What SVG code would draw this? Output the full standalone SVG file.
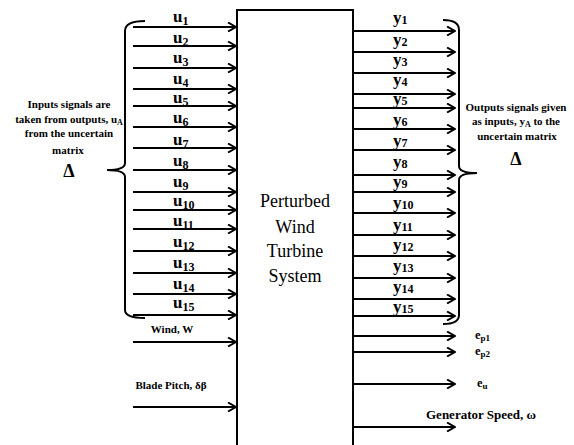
<svg xmlns="http://www.w3.org/2000/svg" width="574" height="445" viewBox="0 0 574 445">
  <style>
    .ln { stroke: #000; stroke-width: 2; fill: none; }
    .arr { stroke: #000; stroke-width: 2; fill: none; marker-end: url(#head); }
    .sig { font-family: "Liberation Serif", "Times New Roman", serif; font-weight: bold; font-size: 17px; fill: #000; }
    .sub { font-size: 12px; }
    .note { font-family: "Liberation Serif", "Times New Roman", serif; font-weight: bold; font-size: 11px; fill: #000; text-anchor: middle; }
    .delta { font-family: "Liberation Serif", "Times New Roman", serif; font-weight: bold; font-size: 18px; fill: #000; text-anchor: middle; }
    .big { font-family: "Liberation Serif", "Times New Roman", serif; font-size: 18px; fill: #000; text-anchor: middle; }
    .lbl { font-family: "Liberation Serif", "Times New Roman", serif; font-weight: bold; font-size: 12.5px; fill: #000; }
    .gen { font-size: 13px; }
  </style>
  <defs>
    <marker id="head" markerWidth="10" markerHeight="10" refX="9" refY="5" orient="auto" markerUnits="userSpaceOnUse">
      <path d="M1,0.5 L9,5 L1,9.5" fill="none" stroke="#000" stroke-width="2"/>
    </marker>
  </defs>
  <rect width="574" height="445" fill="#fff"/>

  <!-- plant block -->
  <g id="system">
    <path class="ln" d="M237,446 L237,10 L353,10 L353,446"/>
    <text class="big" x="295" y="207">Perturbed</text>
    <text class="big" x="295" y="233">Wind</text>
    <text class="big" x="295" y="257">Turbine</text>
    <text class="big" x="295" y="282">System</text>
  </g>

  <!-- uncertainty braces and notes -->
  <g id="input-brace">
    <path class="ln" d="M145,21 Q125,21 125,31 L125,163 Q125,170 107,170 Q125,170 125,177 L125,310 Q125,318 145,318"/>
    <text class="note" x="69" y="108">Inputs signals are</text>
    <text class="note" x="69" y="123">taken from outputs, u<tspan font-size="8" dy="2">A</tspan></text>
    <text class="note" x="69" y="137">from the uncertain</text>
    <text class="note" x="68" y="154">matrix</text>
    <text class="delta" x="69" y="177">Δ</text>
  </g>
  <g id="output-brace">
    <path class="ln" d="M443,20 Q459,20 459,30 L459,166 Q459,173 477,173 Q459,173 459,180 L459,315 Q459,324 443,324"/>
    <text class="note" x="516" y="111">Outputs signals given</text>
    <text class="note" x="516" y="125">as inputs, y<tspan font-size="8" dy="2">A</tspan><tspan dy="-2">  to the</tspan></text>
    <text class="note" x="517" y="140">uncertain matrix</text>
    <text class="delta" x="516" y="165">Δ</text>
  </g>

  <!-- signal arrows -->
  <g id="connectors">
    <path class="arr" d="M133,27 H236"/>
    <path class="arr" d="M133,46 H236"/>
    <path class="arr" d="M133,68 H236"/>
    <path class="arr" d="M133,89 H236"/>
    <path class="arr" d="M133,106 H236"/>
    <path class="arr" d="M133,127 H236"/>
    <path class="arr" d="M133,148 H236"/>
    <path class="arr" d="M133,170 H236"/>
    <path class="arr" d="M133,192 H236"/>
    <path class="arr" d="M133,210 H236"/>
    <path class="arr" d="M133,229 H236"/>
    <path class="arr" d="M133,251 H236"/>
    <path class="arr" d="M133,273 H236"/>
    <path class="arr" d="M133,294 H236"/>
    <path class="arr" d="M133,315 H236"/>
    <path class="arr" d="M133,342 H236"/>
    <path class="arr" d="M133,407 H236"/>

    <path class="arr" d="M353,31 H455"/>
    <path class="arr" d="M353,52 H455"/>
    <path class="arr" d="M353,73 H455"/>
    <path class="arr" d="M353,94 H455"/>
    <path class="arr" d="M353,108 H455"/>
    <path class="arr" d="M353,129 H455"/>
    <path class="arr" d="M353,150 H455"/>
    <path class="arr" d="M353,175 H455"/>
    <path class="arr" d="M353,192 H455"/>
    <path class="arr" d="M353,213 H455"/>
    <path class="arr" d="M353,235 H455"/>
    <path class="arr" d="M353,256 H455"/>
    <path class="arr" d="M353,278 H455"/>
    <path class="arr" d="M353,299 H455"/>
    <path class="arr" d="M353,316 H455"/>
    <path class="arr" d="M353,336 H455"/>
    <path class="arr" d="M353,352 H455"/>
    <path class="arr" d="M353,384 H455"/>
    <path class="arr" d="M353,427 H455"/>
  </g>

  <!-- input labels -->
  <g id="inputs">
    <text class="sig" x="173" y="22">u<tspan class="sub" dy="3">1</tspan></text>
    <text class="sig" x="173" y="43">u<tspan class="sub" dy="3">2</tspan></text>
    <text class="sig" x="173" y="63">u<tspan class="sub" dy="3">3</tspan></text>
    <text class="sig" x="173" y="84">u<tspan class="sub" dy="3">4</tspan></text>
    <text class="sig" x="173" y="103">u<tspan class="sub" dy="3">5</tspan></text>
    <text class="sig" x="173" y="123">u<tspan class="sub" dy="3">6</tspan></text>
    <text class="sig" x="173" y="145">u<tspan class="sub" dy="3">7</tspan></text>
    <text class="sig" x="173" y="166">u<tspan class="sub" dy="3">8</tspan></text>
    <text class="sig" x="173" y="187">u<tspan class="sub" dy="3">9</tspan></text>
    <text class="sig" x="173" y="206">u<tspan class="sub" dy="3">10</tspan></text>
    <text class="sig" x="173" y="226">u<tspan class="sub" dy="3">11</tspan></text>
    <text class="sig" x="173" y="247">u<tspan class="sub" dy="3">12</tspan></text>
    <text class="sig" x="173" y="268">u<tspan class="sub" dy="3">13</tspan></text>
    <text class="sig" x="173" y="289">u<tspan class="sub" dy="3">14</tspan></text>
    <text class="sig" x="173" y="308">u<tspan class="sub" dy="3">15</tspan></text>
    <text class="note" x="172" y="333">Wind, W</text>
    <text class="note" x="171" y="389">Blade Pitch, δβ</text>
  </g>

  <!-- output labels -->
  <g id="outputs">
    <text class="sig" x="393" y="23" font-size="16">y<tspan class="sub" dy="1">1</tspan></text>
    <text class="sig" x="393" y="45" font-size="16">y<tspan class="sub" dy="1">2</tspan></text>
    <text class="sig" x="393" y="65" font-size="16">y<tspan class="sub" dy="1">3</tspan></text>
    <text class="sig" x="393" y="85" font-size="16">y<tspan class="sub" dy="1">4</tspan></text>
    <text class="sig" x="393" y="104" font-size="16">y<tspan class="sub" dy="1">5</tspan></text>
    <text class="sig" x="393" y="125" font-size="16">y<tspan class="sub" dy="1">6</tspan></text>
    <text class="sig" x="393" y="146" font-size="16">y<tspan class="sub" dy="1">7</tspan></text>
    <text class="sig" x="393" y="167" font-size="16">y<tspan class="sub" dy="1">8</tspan></text>
    <text class="sig" x="393" y="187" font-size="16">y<tspan class="sub" dy="1">9</tspan></text>
    <text class="sig" x="393" y="208" font-size="16">y<tspan class="sub" dy="1">10</tspan></text>
    <text class="sig" x="393" y="230" font-size="16">y<tspan class="sub" dy="1">11</tspan></text>
    <text class="sig" x="393" y="250" font-size="16">y<tspan class="sub" dy="1">12</tspan></text>
    <text class="sig" x="393" y="271" font-size="16">y<tspan class="sub" dy="1">13</tspan></text>
    <text class="sig" x="393" y="292" font-size="16">y<tspan class="sub" dy="1">14</tspan></text>
    <text class="sig" x="393" y="312" font-size="16">y<tspan class="sub" dy="1">15</tspan></text>
    <text class="lbl" x="475" y="339">e<tspan font-size="9" dy="2">p1</tspan></text>
    <text class="lbl" x="475" y="355">e<tspan font-size="9" dy="2">p2</tspan></text>
    <text class="lbl" x="477" y="387">e<tspan font-size="9" dy="2">u</tspan></text>
    <text class="lbl gen" x="426" y="419">Generator Speed, ω</text>
  </g>
</svg>
